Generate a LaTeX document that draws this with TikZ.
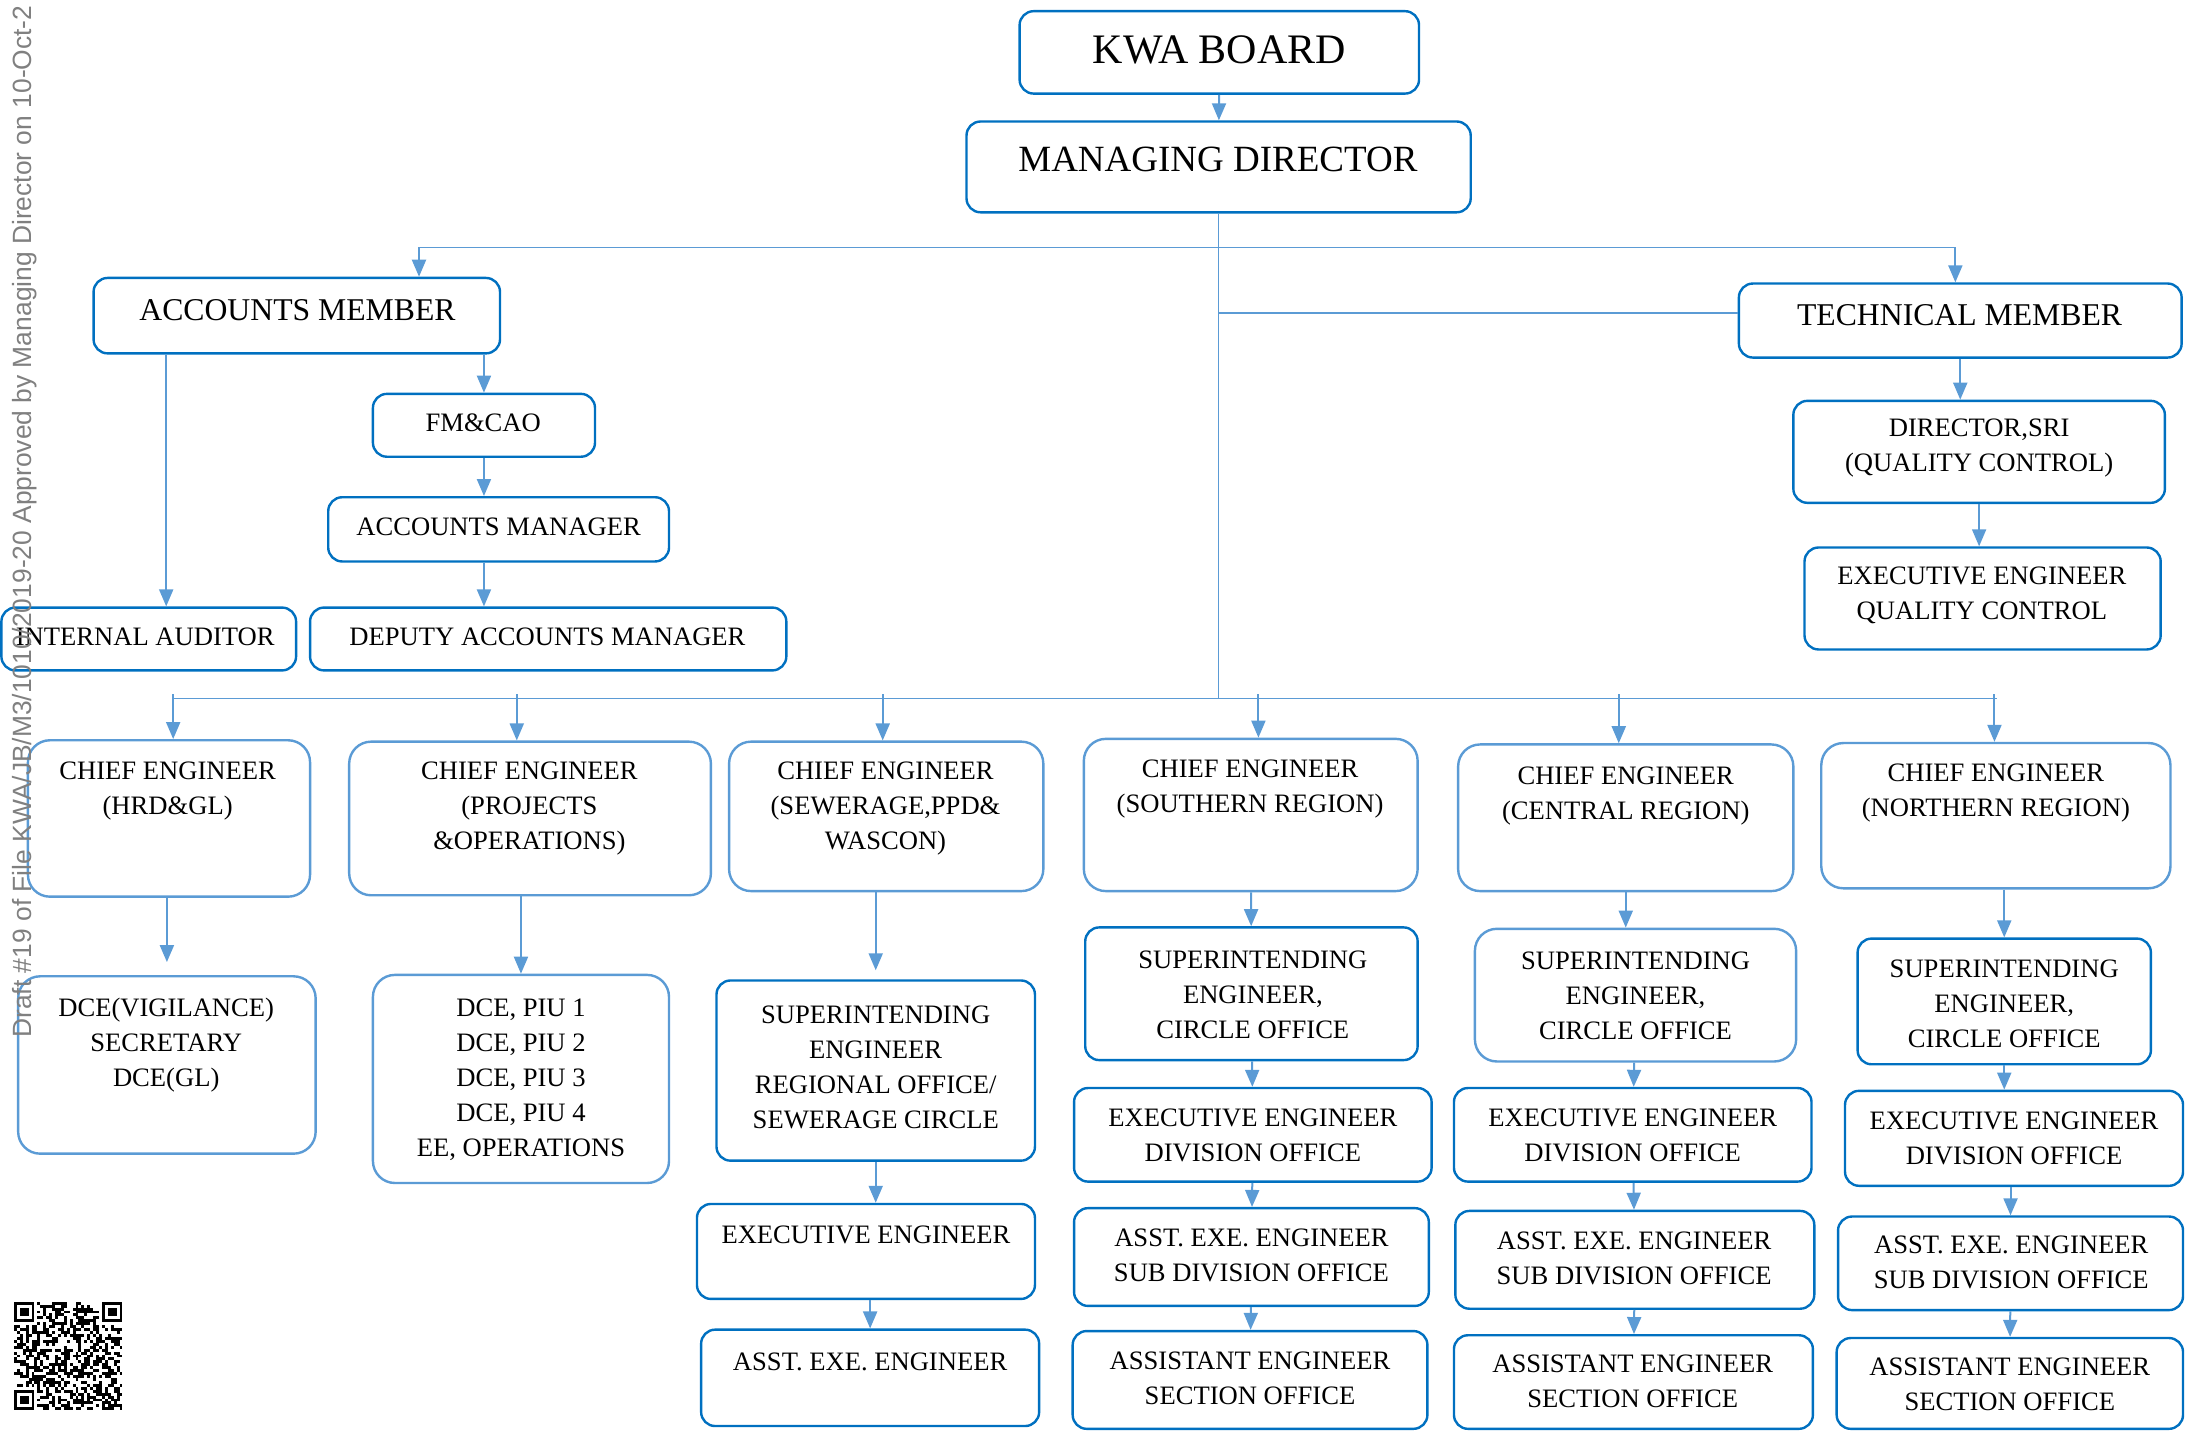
\documentclass[tikz,border=0pt]{standalone}
\usepackage{fontspec}
\setmainfont{Liberation Serif}
\newfontfamily\markfont{Liberation Sans}
\usetikzlibrary{arrows.meta,fit}

\definecolor{kwadark}{RGB}{0,112,192}
\definecolor{kwalight}{RGB}{91,155,213}
\definecolor{markgray}{RGB}{128,128,128}

\newcommand\boardsize{\fontsize{42}{50}\selectfont}
\newcommand\mdsize{\fontsize{37}{44}\selectfont}
\newcommand\memsize{\fontsize{31.7}{38}\selectfont}
\newcommand\postsize{\fontsize{26.6}{35}\selectfont}

\begin{document}
\begin{tikzpicture}[x=1.3967pt, y=-1.3967pt, >={Triangle[length=17pt,width=14pt]},
  dk/.style={draw=kwadark, line width=2.4pt, rounded corners=14pt, inner sep=0pt},
  lt/.style={draw=kwalight, line width=2.4pt, rounded corners=22pt, inner sep=0pt},
  tx/.style={align=center, font=\postsize, inner sep=0pt},
  ln/.style={color=kwalight, line width=1.3pt},
  arr/.style={->, color=kwalight, line width=2pt}]

\useasboundingbox (0,0) rectangle (1568,1025);
\clip (0,0) rectangle (1568,1025);

% board and md
\node[dk, fit={(730,8) (1016,67)}] (board) {};
\node[tx, font=\boardsize] (board-t) at (873,36) {KWA BOARD};
\node[dk, fit={(692,87) (1053,152)}] (md) {};
\node[tx, font=\mdsize] (md-t) at (872,114) {MANAGING DIRECTOR};

% accounts side
\node[dk, fit={(67,199) (358,253)}] (am) {};
\node[tx, font=\memsize] (am-t) at (213,222) {ACCOUNTS MEMBER};
\node[dk, fit={(267,282) (426,327)}] (fm) {};
\node[tx] (fm-t) at (346,303) {FM\&CAO};
\node[dk, fit={(235,356) (479,402)}] (amgr) {};
\node[tx] (amgr-t) at (357,377) {ACCOUNTS MANAGER};
\node[dk, fit={(222,435) (563,480)}] (dam) {};
\node[tx] (dam-t) at (392,456) {DEPUTY ACCOUNTS MANAGER};
\node[dk, fit={(1,435) (212,480)}] (ia) {};
\node[tx] (ia-t) at (104,456) {INTERNAL AUDITOR};

% technical side
\node[dk, fit={(1245,203) (1562,256)}] (tm) {};
\node[tx, font=\memsize] (tm-t) at (1403,226) {TECHNICAL MEMBER};
\node[dk, fit={(1284,287) (1550,360)}] (dsri) {};
\node[tx] (dsri-t) at (1417,321) {DIRECTOR,SRI\\(QUALITY CONTROL)};
\node[dk, fit={(1292,392) (1547,465)}] (eeqc) {};
\node[tx] (eeqc-t) at (1419,426) {EXECUTIVE ENGINEER\\QUALITY CONTROL};

% chief engineers
\node[lt, fit={(20,530) (222,642)}] (cehrd) {};
\node[tx] (cehrd-t) at (120,566) {CHIEF ENGINEER\\(HRD\&GL)};
\node[lt, fit={(250,531) (509,641)}] (ceproj) {};
\node[tx] (ceproj-t) at (379,579) {CHIEF ENGINEER\\(PROJECTS\\\&OPERATIONS)};
\node[lt, fit={(522,531) (747,638)}] (cesew) {};
\node[tx] (cesew-t) at (634,579) {CHIEF ENGINEER\\(SEWERAGE,PPD\&\\WASCON)};
\node[lt, fit={(776,529) (1015,638)}] (cesouth) {};
\node[tx] (cesouth-t) at (895,565) {CHIEF ENGINEER\\(SOUTHERN REGION)};
\node[lt, fit={(1044,533) (1284,638)}] (cecent) {};
\node[tx] (cecent-t) at (1164,570) {CHIEF ENGINEER\\(CENTRAL REGION)};
\node[lt, fit={(1304,532) (1554,636)}] (cenorth) {};
\node[tx] (cenorth-t) at (1429,568) {CHIEF ENGINEER\\(NORTHERN REGION)};

% hrd and projects
\node[lt, fit={(13,699) (226,826)}] (dcev) {};
\node[tx] (dcev-t) at (119,748) {DCE(VIGILANCE)\\SECRETARY\\DCE(GL)};
\node[lt, fit={(267,698) (479,847)}] (dcep) {};
\node[tx] (dcep-t) at (373,773) {DCE, PIU 1\\DCE, PIU 2\\DCE, PIU 3\\DCE, PIU 4\\EE, OPERATIONS};

% sewerage
\node[dk, fit={(513,702) (741,831)}] (sesew) {};
\node[tx] (sesew-t) at (627,764) {SUPERINTENDING\\ENGINEER\\REGIONAL OFFICE/\\SEWERAGE CIRCLE};
\node[dk, fit={(499,862) (741,930)}] (eesew) {};
\node[tx] (eesew-t) at (620,884) {EXECUTIVE ENGINEER};
\node[dk, fit={(502,952) (744,1021)}] (aeesew) {};
\node[tx] (aeesew-t) at (623,975) {ASST. EXE. ENGINEER};

% southern
\node[dk, fit={(777,664) (1015,759)}] (sesouth) {};
\node[tx] (sesouth-t) at (897,712) {SUPERINTENDING\\ENGINEER,\\CIRCLE OFFICE};
\node[dk, fit={(769,779) (1025,846)}] (eesouth) {};
\node[tx] (eesouth-t) at (897,813) {EXECUTIVE ENGINEER\\DIVISION OFFICE};
\node[dk, fit={(769,865) (1023,935)}] (aeesouth) {};
\node[tx] (aeesouth-t) at (896,899) {ASST. EXE. ENGINEER\\SUB DIVISION OFFICE};
\node[dk, fit={(768,953) (1022,1023)}] (aesouth) {};
\node[tx] (aesouth-t) at (895,987) {ASSISTANT ENGINEER\\SECTION OFFICE};

% central
\node[lt, fit={(1056,665) (1286,760)}] (secent) {};
\node[tx] (secent-t) at (1171,713) {SUPERINTENDING\\ENGINEER,\\CIRCLE OFFICE};
\node[dk, fit={(1041,779) (1297,846)}] (eecent) {};
\node[tx] (eecent-t) at (1169,813) {EXECUTIVE ENGINEER\\DIVISION OFFICE};
\node[dk, fit={(1042,867) (1299,937)}] (aeecent) {};
\node[tx] (aeecent-t) at (1170,901) {ASST. EXE. ENGINEER\\SUB DIVISION OFFICE};
\node[dk, fit={(1041,956) (1298,1023)}] (aecent) {};
\node[tx] (aecent-t) at (1169,989) {ASSISTANT ENGINEER\\SECTION OFFICE};

% northern
\node[dk, fit={(1330,672) (1540,762)}] (senorth) {};
\node[tx] (senorth-t) at (1435,719) {SUPERINTENDING\\ENGINEER,\\CIRCLE OFFICE};
\node[dk, fit={(1321,781) (1563,849)}] (eenorth) {};
\node[tx] (eenorth-t) at (1442,815) {EXECUTIVE ENGINEER\\DIVISION OFFICE};
\node[dk, fit={(1316,871) (1563,938)}] (aeenorth) {};
\node[tx] (aeenorth-t) at (1440,904) {ASST. EXE. ENGINEER\\SUB DIVISION OFFICE};
\node[dk, fit={(1315,958) (1563,1023)}] (aenorth) {};
\node[tx] (aenorth-t) at (1439,991) {ASSISTANT ENGINEER\\SECTION OFFICE};

% bus lines
\coordinate (topL) at (300,177);
\coordinate (topR) at (1400,177);
\coordinate (tmj) at (871,224);
\coordinate (busL) at (124,500);
\coordinate (busR) at (1430,500);
\coordinate (iax) at (119,0);

\draw[arr] (board) -- (md);
\draw[ln] (md.south) -- (md.south |- busL);
\draw[ln] (topL) -- (topR);
\draw[ln] (md.south |- tmj) -- (tm.west |- tmj);
\draw[ln] (busL) -- (busR);
\draw[arr] (topL) -- (topL |- am.north);
\draw[arr] (topR) -- (topR |- tm.north);
\foreach \ce/\x in {cehrd/124, ceproj/370, cesew/632, cesouth/901, cecent/1159, cenorth/1428}{
  \coordinate (drop) at (\x,497);
  \draw[arr] (drop) -- (drop |- \ce.north);
}

% accounts arrows
\draw[arr] (am.south -| fm.north) -- (fm.north);
\draw[arr] (fm.south) -- (fm.south |- amgr.north);
\draw[arr] (amgr.south -| fm.south) -- (dam.north -| fm.south);
\draw[arr] (am.south -| iax) -- (ia.north -| iax);

% technical arrows
\draw[arr] (tm.south) -- (tm.south |- dsri.north);
\draw[arr] (dsri.south) -- (dsri.south |- eeqc.north);

% column arrows
\draw[arr, shorten >=13pt] (cehrd.south -| dcev.north) -- (dcev.north);
\draw[arr] (ceproj.south -| dcep.north) -- (dcep.north);
\draw[arr, shorten >=9pt] (cesew.south -| sesew.north) -- (sesew.north);
\draw[arr] (sesew.south) -- (sesew.south |- eesew.north);
\draw[arr] (eesew.south -| aeesew.north) -- (aeesew.north);
\path[arr] (cesouth) edge (sesouth)
           (sesouth) edge (eesouth)
           (eesouth) edge (aeesouth)
           (aeesouth) edge (aesouth);
\draw[arr] (cecent.south) -- (cecent.south |- secent.north);
\path[arr] (secent) edge (eecent)
           (eecent) edge (aeecent)
           (aeecent) edge (aecent);
\draw[arr] (cenorth.south -| senorth.north) -- (senorth.north);
\draw[arr] (senorth.south) -- (senorth.south |- eenorth.north);
\path[arr] (eenorth.south -| aeenorth.north) edge (aeenorth.north)
           (aeenorth) edge (aenorth);

% qr code
\begin{scope}[shift={(10,932)}]
  \pgfmathsetseed{19}
  \foreach \i in {0,...,36}{
    \foreach \j in {0,...,36}{
      \pgfmathparse{((\i<8 && \j<8) || (\i>28 && \j<8) || (\i<8 && \j>28)) ? 0 : (rnd<0.5)}
      \ifdim\pgfmathresult pt>0.5pt \fill (\i*2.1,\j*2.1) rectangle ++(2.1,2.1); \fi
    }
  }
  \foreach \a/\b in {0/0, 30/0, 0/30}{
    \fill (\a*2.1,\b*2.1) rectangle ++(14.7,14.7);
    \fill[white] (\a*2.1+2.1,\b*2.1+2.1) rectangle ++(10.5,10.5);
    \fill (\a*2.1+4.2,\b*2.1+4.2) rectangle ++(6.3,6.3);
  }
\end{scope}

% watermark
\node[font=\markfont\fontsize{26.4}{30}\selectfont, text=markgray, rotate=90,
  anchor=base west, inner sep=0pt] (mark) at (22.6,743)
  {Draft \#19 of File KWA/JB/M3/1010/2019-20 Approved by Managing Director on 10-Oct-2};

\end{tikzpicture}
\end{document}
